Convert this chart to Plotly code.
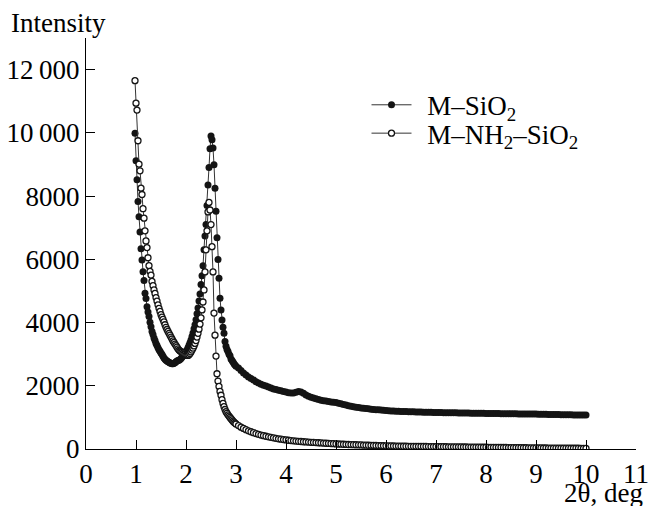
import plotly.graph_objects as go

# 2-theta sampling (deg)
two_theta_peak = [
    0.98, 1.00, 1.02, 1.04, 1.06, 1.08, 1.10, 1.12, 1.14, 1.16,
    1.18, 1.20, 1.22, 1.24, 1.26, 1.28, 1.30, 1.32, 1.34, 1.36,
    1.38, 1.40, 1.42, 1.44, 1.46, 1.48, 1.50, 1.52, 1.54, 1.56,
    1.58, 1.60, 1.62, 1.64, 1.66, 1.68, 1.70, 1.72, 1.74, 1.76,
    1.78, 1.80, 1.82, 1.84, 1.86, 1.88, 1.90, 1.92, 1.94, 1.96,
    1.98, 2.00, 2.02, 2.04, 2.06, 2.08, 2.10, 2.12, 2.14, 2.16,
    2.18, 2.20, 2.22, 2.24, 2.26, 2.28, 2.30, 2.32, 2.34, 2.36,
    2.38, 2.40, 2.42, 2.44, 2.46, 2.48, 2.50, 2.52, 2.54, 2.56,
    2.58, 2.60, 2.62, 2.64, 2.66, 2.68, 2.70, 2.72, 2.74, 2.76,
    2.78, 2.80, 2.82, 2.84, 2.86, 2.88, 2.90, 2.92, 2.94, 2.96,
    2.98, 3.00,
]
two_theta_tail = [
    3.05, 3.10, 3.15, 3.20, 3.25, 3.30, 3.35, 3.40, 3.45, 3.50,
    3.55, 3.60, 3.65, 3.70, 3.75, 3.80, 3.85, 3.90, 3.95, 4.00,
    4.05, 4.10, 4.15, 4.20, 4.25, 4.30, 4.35, 4.40, 4.45, 4.50,
    4.55, 4.60, 4.65, 4.70, 4.75, 4.80, 4.85, 4.90, 4.95, 5.00,
    5.05, 5.10, 5.15, 5.20, 5.25, 5.30, 5.35, 5.40, 5.45, 5.50,
    5.55, 5.60, 5.65, 5.70, 5.75, 5.80, 5.85, 5.90, 5.95, 6.00,
    6.05, 6.10, 6.15, 6.20, 6.25, 6.30, 6.35, 6.40, 6.45, 6.50,
    6.55, 6.60, 6.65, 6.70, 6.75, 6.80, 6.85, 6.90, 6.95, 7.00,
    7.05, 7.10, 7.15, 7.20, 7.25, 7.30, 7.35, 7.40, 7.45, 7.50,
    7.55, 7.60, 7.65, 7.70, 7.75, 7.80, 7.85, 7.90, 7.95, 8.00,
    8.05, 8.10, 8.15, 8.20, 8.25, 8.30, 8.35, 8.40, 8.45, 8.50,
    8.55, 8.60, 8.65, 8.70, 8.75, 8.80, 8.85, 8.90, 8.95, 9.00,
    9.05, 9.10, 9.15, 9.20, 9.25, 9.30, 9.35, 9.40, 9.45, 9.50,
    9.55, 9.60, 9.65, 9.70, 9.75, 9.80, 9.85, 9.90, 9.95, 10.00,
]

# M-SiO2 (filled circles)
m_sio2_peak = [
    9990, 9120, 8520, 7830, 7350, 6860, 6330, 5980, 5610, 5330,
    4930, 4760, 4500, 4330, 4190, 4010, 3870, 3720, 3620, 3510,
    3430, 3340, 3270, 3200, 3140, 3090, 3040, 2990, 2930, 2880,
    2840, 2810, 2780, 2760, 2740, 2720, 2710, 2700, 2700, 2710,
    2730, 2760, 2780, 2800, 2810, 2830, 2860, 2900, 2950, 2990,
    3030, 3080, 3130, 3200, 3280, 3360, 3450, 3560, 3670, 3800,
    3930, 4090, 4280, 4460, 4680, 4900, 5200, 5480, 5800, 6300,
    6740, 7100, 7700, 8350, 8900, 9500, 9900, 9780, 9520, 8990,
    8250, 7520, 6680, 5990, 5400, 4770, 4400, 4080, 3850, 3660,
    3400, 3250, 3150, 3080, 3000, 2950, 2850, 2800, 2750, 2700,
    2660, 2620,
]
m_sio2_tail = [
    2560, 2480, 2400, 2340, 2280, 2230, 2180, 2130, 2090, 2050,
    2020, 1990, 1960, 1930, 1900, 1880, 1860, 1840, 1820, 1800,
    1780, 1770, 1775, 1795, 1815, 1805, 1760, 1710, 1665, 1635,
    1610, 1590, 1565, 1545, 1530, 1515, 1500, 1490, 1480, 1470,
    1450, 1430, 1410, 1390, 1370, 1350, 1335, 1320, 1310, 1300,
    1290, 1280, 1270, 1260, 1252, 1245, 1238, 1230, 1222, 1215,
    1210, 1205, 1200, 1196, 1193, 1190, 1186, 1183, 1180, 1177,
    1175, 1172, 1170, 1168, 1166, 1164, 1162, 1160, 1158, 1156,
    1154, 1152, 1150, 1149, 1147, 1146, 1144, 1143, 1141, 1140,
    1138, 1137, 1135, 1134, 1132, 1131, 1130, 1128, 1127, 1125,
    1124, 1123, 1121, 1120, 1119, 1118, 1117, 1116, 1115, 1114,
    1113, 1112, 1111, 1110, 1109, 1108, 1107, 1106, 1105, 1104,
    1102, 1100, 1099, 1097, 1095, 1094, 1092, 1090, 1089, 1087,
    1085, 1084, 1082, 1081, 1079, 1078, 1076, 1075, 1073, 1072,
]

# M-NH2-SiO2 (open circles)
m_nh2_sio2_peak = [
    11650, 10940, 10720, 9750, 9010, 8800, 8250, 8050, 7600, 7300,
    6900, 6580, 6370, 6050, 5800, 5620, 5500, 5300, 5170, 5030,
    4920, 4790, 4680, 4560, 4450, 4350, 4250, 4170, 4100, 4020,
    3930, 3850, 3780, 3720, 3660, 3600, 3540, 3480, 3420, 3370,
    3320, 3270, 3220, 3170, 3130, 3100, 3080, 3060, 3030, 3010,
    2990, 2970, 2960, 2960, 2980, 3020, 3070, 3130, 3190, 3260,
    3340, 3430, 3540, 3660, 3790, 3950, 4150, 4400, 4650, 5030,
    5600, 6300, 6900, 7500, 7800, 7560, 7100, 6400, 5600, 4300,
    3600, 2940, 2380, 2150, 1980, 1820, 1700, 1560, 1440, 1340,
    1250, 1180, 1130, 1080, 1040, 1000, 960, 920, 880, 850,
    820, 790,
]
m_nh2_sio2_tail = [
    740, 690, 650, 610, 575, 545, 515, 488, 463, 442,
    422, 403, 385, 368, 352, 337, 323, 310, 298, 287,
    277, 268, 259, 251, 244, 237, 230, 224, 218, 212,
    207, 202, 197, 192, 187, 182, 177, 172, 167, 162,
    158, 154, 150, 146, 143, 140, 137, 134, 131, 128,
    125, 122, 119, 116, 113, 110, 107, 105, 103, 101,
    99, 97, 95, 93, 91, 89, 88, 87, 86, 85,
    84, 83, 82, 81, 80, 79, 78, 77, 76, 75,
    74, 73, 72, 71, 70, 69, 68, 67, 66, 65,
    64, 63, 62, 61, 60, 59, 58, 57, 56, 55,
    54, 53, 52, 51, 50, 49, 48, 47, 46, 45,
    44, 43, 42, 41, 40, 39, 38, 37, 36, 35,
    34, 33, 32, 31, 30, 30, 29, 28, 27, 27,
    26, 25, 25, 24, 24, 23, 23, 22, 22, 22,
]

series_names = ["\u2009\u2009M\u2013SiO<sub>2</sub>", "\u2009\u2009M\u2013NH<sub>2</sub>\u2013SiO<sub>2</sub>"]
y_tick_vals = [0, 2000, 4000, 6000, 8000, 10000, 12000]
y_tick_text = ["0", "2000", "4000", "6000", "8000", "10\u2009000", "12\u2009000"]
x_tick_vals = [0, 1, 2, 3, 4, 5, 6, 7, 8, 9, 10, 11]

two_theta = two_theta_peak + two_theta_tail
m_sio2 = m_sio2_peak + m_sio2_tail
m_nh2_sio2 = m_nh2_sio2_peak + m_nh2_sio2_tail

FONT = "Liberation Serif, Times New Roman, serif"
FS = 27
INK = "#141414"

fig = go.Figure()
fig.add_trace(go.Scatter(
    x=two_theta, y=m_sio2, name=series_names[0], mode="lines+markers",
    line=dict(color="#333333", width=1), legend="legend",
    marker=dict(symbol="circle", size=7, color=INK, line=dict(width=0)),
))
fig.add_trace(go.Scatter(
    x=two_theta, y=m_nh2_sio2, name=series_names[1], mode="lines+markers",
    line=dict(color="#333333", width=1), legend="legend2",
    marker=dict(symbol="circle", size=6, color="white", line=dict(color=INK, width=1.3)),
))

legend_common = dict(
    xanchor="left", yanchor="top",
    bgcolor="rgba(0,0,0,0)", borderwidth=0,
    font=dict(family=FONT, size=FS, color="black"),
    itemwidth=40,
)

fig.update_layout(
    width=649, height=506,
    margin=dict(l=86, r=13, t=38, b=57, autoexpand=False),
    paper_bgcolor="white", plot_bgcolor="white",
    font=dict(family=FONT, size=FS, color="black"),
    showlegend=True,
    legend=dict(x=0.510, y=0.896, **legend_common),
    legend2=dict(x=0.510, y=0.827, **legend_common),
    xaxis=dict(
        range=[0, 11], tickmode="array", tickvals=x_tick_vals,
        ticks="inside", ticklen=9, tickwidth=1.2, tickcolor="black",
        showline=True, linecolor="black", linewidth=1.3,
        showgrid=False, zeroline=False, automargin=False,
        tickfont=dict(family=FONT, size=FS, color="black"),
    ),
    yaxis=dict(
        range=[0, 13000], tickmode="array", tickvals=y_tick_vals, ticktext=y_tick_text,
        ticks="inside", ticklen=9, tickwidth=1.2, tickcolor="black",
        showline=True, linecolor="black", linewidth=1.3,
        showgrid=False, zeroline=False, automargin=False,
        tickfont=dict(family=FONT, size=FS, color="black"),
    ),
    annotations=[
        dict(text="Intensity", xref="paper", yref="paper", x=-0.14, y=1.036,
             xanchor="left", yanchor="middle", showarrow=False,
             font=dict(family=FONT, size=FS, color="black")),
        dict(text="2\u03b8, deg", xref="paper", yref="paper", x=1.016, y=-0.108,
             xanchor="right", yanchor="middle", showarrow=False,
             font=dict(family=FONT, size=FS, color="black")),
    ],
)

fig.write_html(
    "out.html",
    config={"displayModeBar": False},
    post_script="document.body.style.margin='0';document.body.style.overflow='hidden';",
)
